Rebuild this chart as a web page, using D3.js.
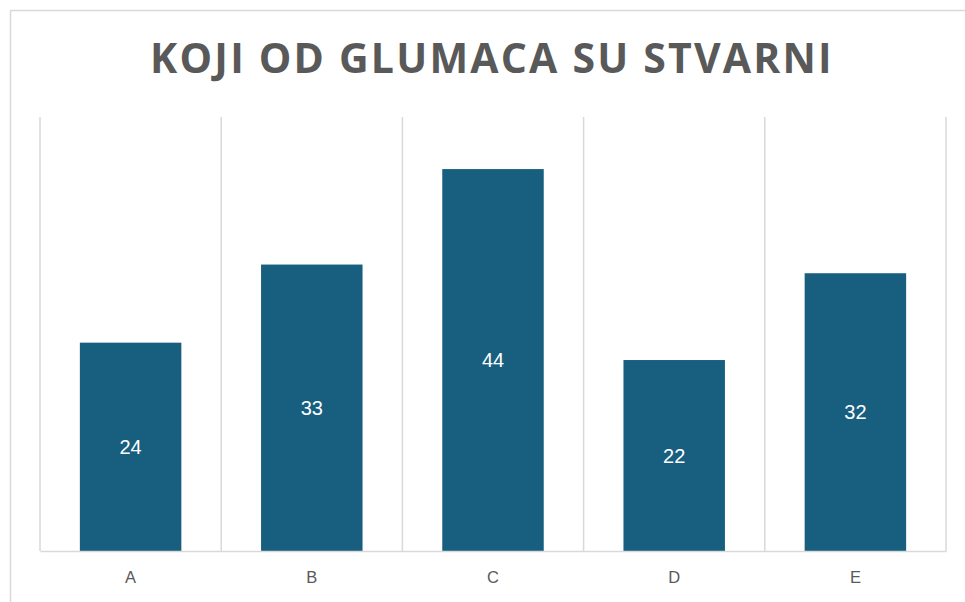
<!DOCTYPE html>
<html>
<head>
<meta charset="utf-8">
<script src="https://cdn.jsdelivr.net/npm/d3@7"></script>
<style>
  body { margin: 0; background: #fff; }
</style>
</head>
<body>
<svg id="chart" width="965" height="602"></svg>
<script>
const categories = ["A", "B", "C", "D", "E"];
const values = [24, 33, 44, 22, 32];
const title = "KOJI OD GLUMACA SU STVARNI";

const svg = d3.select("#chart");
const margin = { top: 117, right: 19, bottom: 51, left: 40 };
const width = 965 - margin.left - margin.right;
const height = 602 - margin.top - margin.bottom;

// outer chart border (right/bottom edges fall outside the window)
svg.append("rect")
  .attr("x", 10.5)
  .attr("y", 10.5)
  .attr("width", 980)
  .attr("height", 620)
  .attr("fill", "#fff")
  .attr("stroke", "#d9d9d9")
  .attr("stroke-width", 1.5);

const g = svg.append("g")
  .attr("transform", `translate(${margin.left},${margin.top})`);

const x = d3.scaleBand()
  .domain(categories)
  .range([0, width])
  .paddingInner(0.44)
  .paddingOuter(0.22);

const y = d3.scaleLinear()
  .domain([0, 50])
  .range([height, 0]);

// vertical gridlines between categories
const edges = d3.range(categories.length + 1).map(i => i * width / categories.length);
g.selectAll(".vgrid")
  .data(edges)
  .join("line")
  .attr("class", "vgrid")
  .attr("x1", d => d)
  .attr("x2", d => d)
  .attr("y1", 0)
  .attr("y2", height)
  .attr("stroke", "#d9d9d9")
  .attr("stroke-width", 1.5);

// bars
g.selectAll(".bar")
  .data(values)
  .join("rect")
  .attr("class", "bar")
  .attr("x", (d, i) => x(categories[i]))
  .attr("y", d => y(d))
  .attr("width", x.bandwidth())
  .attr("height", d => height - y(d))
  .attr("fill", "#175e7f");

// value labels, centred in each bar
g.selectAll(".val")
  .data(values)
  .join("text")
  .attr("class", "val")
  .attr("x", (d, i) => x(categories[i]) + x.bandwidth() / 2)
  .attr("y", d => (y(d) + height) / 2)
  .attr("dy", "0.35em")
  .attr("text-anchor", "middle")
  .attr("fill", "#fff")
  .style("font-family", "'Liberation Sans', Arial, sans-serif")
  .style("font-size", "20px")
  .text(d => d);

// x axis
const xAxis = g.append("g")
  .attr("transform", `translate(0,${height})`)
  .call(d3.axisBottom(x).tickSize(0).tickPadding(20));
xAxis.select(".domain")
  .attr("stroke", "#d9d9d9")
  .attr("stroke-width", 1.5);
xAxis.selectAll("text")
  .attr("fill", "#595959")
  .style("font-family", "'Liberation Sans', Arial, sans-serif")
  .style("font-size", "16.5px");

// title
svg.append("text")
  .attr("x", 492)
  .attr("y", 72.5)
  .attr("text-anchor", "middle")
  .attr("fill", "#595959")
  .style("font-family", "'Open Sans', sans-serif")
  .style("font-weight", "bold")
  .style("font-size", "41px")
  .style("letter-spacing", "2.2px")
  .text(title);
</script>
</body>
</html>
